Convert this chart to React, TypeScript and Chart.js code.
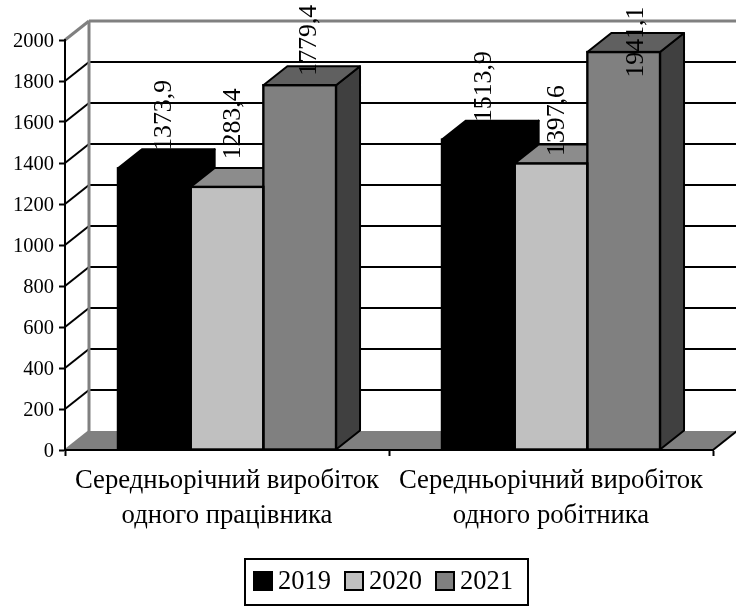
import React, { useEffect, useRef } from "react";
import { Chart, registerables } from "chart.js";

Chart.register(...registerables);

// Average annual output per person, by year
const categories = [
  ["Середньорічний виробіток", "одного працівника"],
  ["Середньорічний виробіток", "одного робітника"],
];
const years = ["2019", "2020", "2021"];
const values2019 = [1373.9, 1513.9];
const values2020 = [1283.4, 1397.6];
const values2021 = [1779.4, 1941.1];
const yTicksMax = 2000;
const yTickStep = 200;

// Face shades per series: front, top, side
const faceColors = [
  ["#000000", "#000000", "#000000"],
  ["#c0c0c0", "#8c8c8c", "#5a5a5a"],
  ["#808080", "#606060", "#404040"],
];

// Pseudo-3D depth of the plot box and bars
const DEPTH_X = 24;
const DEPTH_Y = 19;
const SERIF = '"Liberation Serif", "Times New Roman", serif';

// Value label placement, per series and category: pixels from the bar's front top corner centre
const labelShift = [
  [[10, -53], [6, -53]],
  [[6, -63], [6, -43]],
  [[10, -45], [13, -10]],
];

const polygon = (ctx: CanvasRenderingContext2D, pts: number[][]) => {
  ctx.beginPath();
  pts.forEach(([x, y], i) => (i ? ctx.lineTo(x, y) : ctx.moveTo(x, y)));
  ctx.closePath();
};

const line = (
  ctx: CanvasRenderingContext2D,
  x0: number,
  y0: number,
  x1: number,
  y1: number,
  color: string,
  width = 2,
) => {
  ctx.strokeStyle = color;
  ctx.lineWidth = width;
  ctx.beginPath();
  ctx.moveTo(x0, y0);
  ctx.lineTo(x1, y1);
  ctx.stroke();
};

// Floor, back wall, side wall and the grid lines running across them
const wallsPlugin = {
  id: "walls",
  beforeDraw(chart: any) {
    const { ctx, chartArea: a, scales } = chart;
    const y = scales.y;
    ctx.save();
    ctx.fillStyle = "#808080";
    polygon(ctx, [
      [a.left, a.bottom],
      [a.left + DEPTH_X, a.bottom - DEPTH_Y],
      [a.right + DEPTH_X, a.bottom - DEPTH_Y],
      [a.right, a.bottom],
    ]);
    ctx.fill();
    y.ticks.forEach((t: any) => {
      const py = y.getPixelForValue(t.value);
      if (t.value === 0) return;
      const isTop = t.value === yTicksMax;
      const color = isTop ? "#808080" : "#000000";
      const width = isTop ? 3 : 2;
      line(ctx, a.left, py, a.left + DEPTH_X, py - DEPTH_Y, color, width);
      line(ctx, a.left + DEPTH_X, py - DEPTH_Y, a.right + DEPTH_X, py - DEPTH_Y, color, width);
    });
    line(ctx, a.left + DEPTH_X, a.top - DEPTH_Y, a.left + DEPTH_X, a.bottom - DEPTH_Y, "#808080", 3);
    line(ctx, a.left, a.bottom, a.left + DEPTH_X, a.bottom - DEPTH_Y, "#808080");
    line(ctx, a.right, a.bottom, a.right + DEPTH_X, a.bottom - DEPTH_Y, "#000000");
    ctx.restore();
  },
  // Top and side faces go under the front faces the library draws
  beforeDatasetsDraw(chart: any) {
    const { ctx } = chart;
    ctx.save();
    ctx.lineWidth = 2;
    ctx.strokeStyle = "#000000";
    ctx.lineJoin = "round";
    categories.forEach((_, c) => {
      chart.data.datasets.forEach((_d: any, s: number) => {
        const bar = chart.getDatasetMeta(s).data[c];
        const l = bar.x - bar.width / 2;
        const r = bar.x + bar.width / 2;
        polygon(ctx, [
          [r, bar.y],
          [r + DEPTH_X, bar.y - DEPTH_Y],
          [r + DEPTH_X, bar.base - DEPTH_Y],
          [r, bar.base],
        ]);
        ctx.fillStyle = faceColors[s][2];
        ctx.fill();
        ctx.stroke();
        polygon(ctx, [
          [l, bar.y],
          [l + DEPTH_X, bar.y - DEPTH_Y],
          [r + DEPTH_X, bar.y - DEPTH_Y],
          [r, bar.y],
        ]);
        ctx.fillStyle = faceColors[s][1];
        ctx.fill();
        ctx.stroke();
      });
    });
    ctx.restore();
  },
  // Outline on the front faces, shared between neighbouring bars
  afterDatasetsDraw(chart: any) {
    const { ctx } = chart;
    ctx.save();
    ctx.lineWidth = 2.4;
    ctx.strokeStyle = "#000000";
    chart.data.datasets.forEach((_d: any, s: number) => {
      chart.getDatasetMeta(s).data.forEach((bar: any) => {
        ctx.strokeRect(bar.x - bar.width / 2, bar.y, bar.width, bar.base - bar.y);
      });
    });
    ctx.restore();
  },
};

// Vertical value labels with a decimal comma
const valueLabelPlugin = {
  id: "valueLabels",
  afterDatasetsDraw(chart: any) {
    const { ctx } = chart;
    ctx.save();
    ctx.font = `25.8px ${SERIF}`;
    ctx.fillStyle = "#000000";
    ctx.textAlign = "center";
    ctx.textBaseline = "middle";
    chart.data.datasets.forEach((d: any, s: number) => {
      chart.getDatasetMeta(s).data.forEach((bar: any, c: number) => {
        const [dx, dy] = labelShift[s][c];
        ctx.save();
        ctx.translate(bar.x + dx, bar.y + dy);
        ctx.rotate(-Math.PI / 2);
        ctx.fillText(d.data[c].toFixed(1).replace(".", ","), 0, 0);
        ctx.restore();
      });
    });
    ctx.restore();
  },
};

// Boxed legend with tightly set swatches
const boxedLegendPlugin = {
  id: "boxedLegend",
  afterDraw(chart: any) {
    const { ctx } = chart;
    const top = 559;
    const left = 245;
    const swatch = 18;
    const pitch = 91;
    ctx.save();
    ctx.strokeStyle = "#000000";
    ctx.lineWidth = 2;
    ctx.strokeRect(left, top, 283, 46);
    ctx.font = `26.5px ${SERIF}`;
    ctx.textBaseline = "middle";
    ctx.textAlign = "left";
    chart.data.datasets.forEach((d: any, s: number) => {
      const x = left + 9 + s * pitch;
      ctx.fillStyle = d.backgroundColor;
      ctx.fillRect(x, top + 13, swatch, swatch);
      ctx.strokeRect(x, top + 13, swatch, swatch);
      ctx.fillStyle = "#000000";
      ctx.fillText(d.label, x + swatch + 6, top + 23);
    });
    ctx.restore();
  },
};

export default function App() {
  const ref = useRef<HTMLCanvasElement>(null);

  useEffect(() => {
    const seriesValues = [values2019, values2020, values2021];
    const chart = new Chart(ref.current as HTMLCanvasElement, {
      type: "bar",
      data: {
        labels: categories,
        datasets: years.map((year, s) => ({
          label: year,
          data: seriesValues[s],
          backgroundColor: faceColors[s][0],
          borderWidth: 0,
        })),
      },
      options: {
        responsive: false,
        animation: false,
        layout: { autoPadding: false, padding: { top: 40, right: 23, left: 0, bottom: 0 } },
        datasets: { bar: { categoryPercentage: 0.673, barPercentage: 1 } },
        plugins: {
          legend: { display: false },
          tooltip: { enabled: false },
          title: { display: false },
        },
        scales: {
          x: {
            afterFit: (scale: any) => {
              scale.height = 157;
            },
            border: { color: "#000000", width: 2 },
            grid: {
              offset: true,
              drawOnChartArea: false,
              drawTicks: true,
              tickLength: 6,
              tickColor: "#000000",
              tickWidth: 2,
            },
            ticks: {
              autoSkip: false,
              maxRotation: 0,
              minRotation: 0,
              color: "#000000",
              padding: 7,
              font: { family: SERIF, size: 26.7, lineHeight: 1.33 },
            },
          },
          y: {
            min: 0,
            max: yTicksMax,
            afterFit: (scale: any) => {
              scale.width = 65;
            },
            border: { color: "#000000", width: 2 },
            grid: {
              drawOnChartArea: false,
              drawTicks: true,
              tickLength: 6,
              tickColor: "#000000",
              tickWidth: 2,
            },
            ticks: {
              stepSize: yTickStep,
              color: "#000000",
              padding: 5,
              labelOffset: 1.5,
              font: { family: SERIF, size: 20.5 },
              callback: (v: any) => String(v),
            },
          },
        },
      },
      plugins: [wallsPlugin, valueLabelPlugin, boxedLegendPlugin],
    } as any);
    return () => chart.destroy();
  }, []);

  return (
    <div style={{ position: "fixed", left: 0, top: 0, background: "#ffffff" }}>
      <canvas ref={ref} width={736} height={607} style={{ display: "block" }} />
    </div>
  );
}
